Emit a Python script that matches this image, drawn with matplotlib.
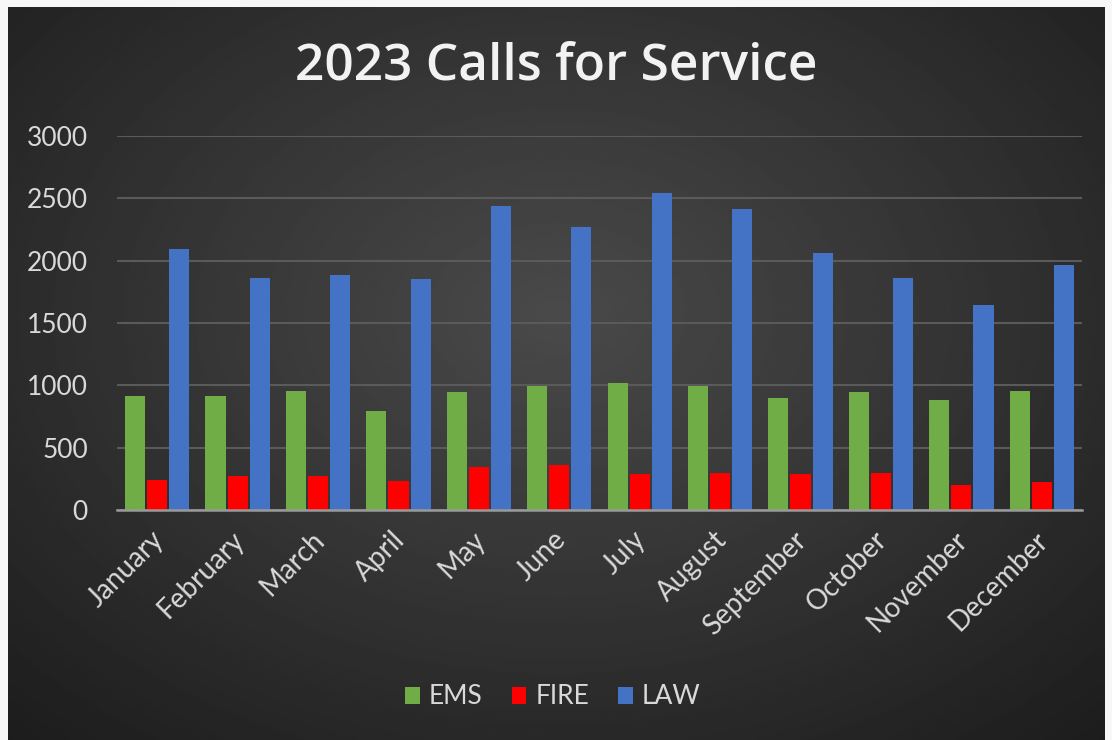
import matplotlib.pyplot as plt
import matplotlib.transforms as mtransforms
import numpy as np

months = ["January", "February", "March", "April", "May", "June",
          "July", "August", "September", "October", "November", "December"]
ems = [917, 915, 955, 794, 947, 995, 1022, 995, 896, 944, 882, 955]
fire = [240, 275, 275, 235, 345, 358, 289, 294, 289, 300, 200, 227]
law = [2090, 1863, 1885, 1851, 2435, 2268, 2540, 2412, 2059, 1858, 1644, 1965]
yticks = [0, 500, 1000, 1500, 2000, 2500, 3000]

W, H = 1112, 740
FONT = ["Lato", "DejaVu Sans"]


def main():
    fig = plt.figure(figsize=(W / 100, H / 100), dpi=100, facecolor="#f7f7f7")

    # dark chart area with a soft radial shading
    bg = fig.add_axes([8 / W, 0, 1097 / W, 733 / H])
    yy, xx = np.mgrid[0:1:300j, 0:1:450j]
    r = np.sqrt(((xx - 0.5) / 0.75) ** 2 + ((yy - 0.42) / 0.8) ** 2)
    shade = np.clip(0.29 - 0.18 * r, 0.11, 0.3)
    bg.imshow(shade, cmap="gray", vmin=0, vmax=1, aspect="auto",
              extent=[0, 1, 0, 1], origin="upper", interpolation="bilinear")
    bg.set_axis_off()

    ax = fig.add_axes([117 / W, (H - 510) / H, (1082 - 117) / W, (510 - 136) / H])
    ax.set_facecolor("none")
    x = np.arange(len(months))
    width = 0.25
    step = 0.275
    ax.bar(x - step, ems, width, color="#70ad47", label="EMS", zorder=3)
    ax.bar(x, fire, width, color="#ff0000", label="FIRE", zorder=3)
    ax.bar(x + step, law, width, color="#4472c4", label="LAW", zorder=3)

    ax.set_xlim(-0.5, len(months) - 0.5)
    ax.set_ylim(0, 3000)
    ax.set_yticks(yticks)
    ax.set_yticklabels([str(v) for v in yticks], family=FONT, fontsize=19,
                       color="#d9d9d9")
    ax.set_xticks(x)
    ax.set_xticklabels(months, rotation=45, ha="right", rotation_mode="anchor",
                       family=FONT, fontsize=20, color="#d9d9d9")
    ax.tick_params(axis="both", length=0)
    ax.tick_params(axis="y", pad=21)
    ax.tick_params(axis="x", pad=12)
    # nudge the slanted month names a little to the left
    shift = mtransforms.ScaledTranslation(-7 / 100, 0, fig.dpi_scale_trans)
    for lbl in ax.get_xticklabels():
        lbl.set_transform(lbl.get_transform() + shift)
    ax.grid(axis="y", color="#5a5a5a", linewidth=1.5, zorder=0)
    for side in ["top", "right", "left"]:
        ax.spines[side].set_visible(False)
    ax.spines["bottom"].set_color("#9a9a9a")
    ax.spines["bottom"].set_linewidth(1.8)
    ax.spines["bottom"].set_zorder(4)

    fig.text(0.5, (H - 67) / H, "2023 Calls for Service", ha="center", va="center",
             family=["Open Sans", "DejaVu Sans"], fontweight="semibold",
             fontsize=37, color="#f2f2f2")

    leg = fig.legend(loc="center", bbox_to_anchor=(553 / W, (H - 697) / H), ncol=3,
                     frameon=False, prop={"family": FONT, "size": 19},
                     handlelength=0.55, handleheight=0.6, handletextpad=0.35,
                     columnspacing=1.1)
    for t in leg.get_texts():
        t.set_color("#d9d9d9")

    fig.savefig("out.png", dpi=100, facecolor=fig.get_facecolor())


if __name__ == "__main__":
    main()
